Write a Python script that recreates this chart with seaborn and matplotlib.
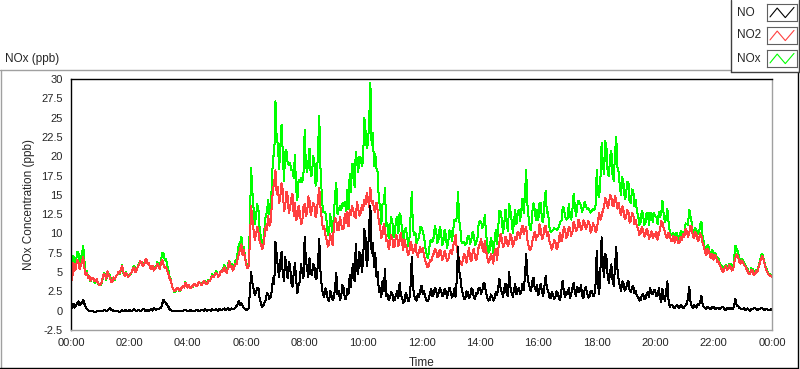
import numpy as np
import pandas as pd
import matplotlib
matplotlib.use("Agg")
import matplotlib.pyplot as plt
from matplotlib.lines import Line2D
from matplotlib.ticker import MultipleLocator, FuncFormatter
import seaborn as sns

# readings every 2.5 minutes, 00:00 .. 24:00 (one row per hour)
no2_ppb = [
    4.3, 4.0, 6.2, 5.2, 5.5, 6.6, 6.4, 5.4, 5.8, 6.3, 7.0, 5.6, 4.6, 4.9, 4.2, 4.5, 3.9, 4.2, 4.3, 3.9, 3.8, 4.1, 3.6, 3.4,
    3.3, 3.6, 4.2, 4.8, 4.6, 4.1, 5.1, 4.6, 4.3, 3.7, 3.8, 4.3, 4.1, 4.5, 4.6, 5.0, 4.9, 5.3, 5.8, 5.0, 4.5, 4.9, 4.7, 4.4,
    4.5, 4.8, 5.0, 5.5, 5.6, 5.0, 5.3, 5.8, 6.0, 6.4, 6.3, 5.8, 5.9, 6.5, 6.7, 6.0, 6.2, 5.6, 5.4, 5.8, 5.2, 5.5, 5.6, 6.1,
    5.8, 5.4, 6.2, 6.6, 6.0, 5.5, 5.7, 5.2, 4.8, 4.2, 3.9, 3.2, 2.8, 2.5, 2.6, 2.9, 2.9, 2.6, 2.7, 3.0, 3.2, 3.0, 3.6, 3.3,
    3.0, 3.3, 2.9, 3.1, 3.2, 3.5, 3.4, 3.2, 3.3, 3.7, 3.6, 3.3, 3.5, 3.8, 3.7, 3.5, 3.4, 3.9, 3.8, 4.2, 4.5, 4.3, 4.6, 4.9,
    4.8, 4.4, 4.5, 5.1, 5.0, 5.3, 5.6, 5.1, 4.9, 5.7, 6.4, 5.6, 5.8, 5.2, 5.5, 6.1, 6.0, 6.8, 7.4, 8.0, 8.6, 7.2, 7.9, 6.8,
    6.0, 5.5, 5.8, 9.0, 13.5, 11.8, 10.5, 9.2, 9.8, 10.9, 10.2, 9.0, 8.6, 8.0, 8.3, 9.6, 11.0, 10.4, 12.3, 11.0, 11.5, 13.6, 15.8, 16.6,
    18.2, 15.1, 16.0, 13.9, 14.8, 16.5, 15.6, 12.9, 13.5, 15.4, 14.9, 12.6, 13.2, 14.6, 15.1, 12.3, 14.0, 11.7, 12.0, 13.6, 12.8, 11.2, 11.6, 13.4,
    13.8, 12.2, 12.6, 14.8, 14.2, 12.4, 13.1, 14.0, 13.6, 12.1, 12.8, 14.6, 15.9, 13.4, 12.0, 10.6, 11.0, 9.8, 9.2, 8.3, 8.6, 9.9, 9.4, 8.5,
    10.8, 12.0, 11.6, 10.4, 10.5, 12.2, 11.2, 10.6, 10.7, 12.5, 11.4, 12.8, 10.9, 13.1, 12.4, 13.6, 12.9, 12.2, 12.0, 14.1, 13.2, 12.3, 12.6, 13.7,
    13.0, 14.4, 13.8, 15.2, 14.6, 13.4, 15.9, 14.0, 14.2, 13.1, 12.8, 14.0, 13.0, 11.5, 10.8, 9.4, 9.9, 11.2, 10.5, 9.0, 9.2, 8.0, 8.6, 9.8,
    9.4, 8.2, 8.3, 9.8, 9.6, 8.4, 9.0, 10.1, 8.7, 7.9, 9.2, 8.4, 8.0, 7.2, 7.6, 8.9, 8.4, 7.5, 7.8, 8.6, 7.4, 7.0, 7.7, 8.2,
    7.6, 8.1, 7.2, 6.5, 6.1, 5.6, 5.8, 6.6, 6.4, 7.0, 7.4, 8.0, 7.8, 6.9, 7.1, 7.9, 7.6, 6.6, 6.9, 7.7, 7.3, 6.4, 6.6, 7.4,
    7.9, 7.3, 8.4, 8.9, 9.8, 8.0, 7.2, 6.6, 6.3, 5.9, 6.6, 7.4, 6.9, 6.2, 7.3, 8.1, 6.8, 6.4, 7.5, 8.0, 7.0, 6.5, 7.2, 8.3,
    8.6, 9.3, 8.1, 7.6, 9.0, 7.8, 7.0, 6.2, 6.5, 7.3, 6.9, 6.1, 7.4, 8.0, 6.6, 7.9, 8.8, 9.9, 9.4, 8.2, 8.5, 9.6, 9.1, 8.4,
    8.8, 9.9, 9.4, 8.3, 8.7, 9.6, 9.1, 10.2, 10.0, 9.4, 10.6, 11.0, 9.9, 10.5, 10.8, 9.2, 8.4, 7.8, 8.0, 8.9, 9.6, 10.2, 9.2, 9.8,
    9.7, 11.2, 10.4, 9.3, 9.6, 10.8, 11.0, 9.7, 10.2, 9.1, 8.6, 7.9, 8.3, 9.2, 8.9, 8.0, 8.2, 9.4, 10.1, 9.0, 9.5, 10.9, 10.4, 9.4,
    9.8, 10.9, 10.6, 9.7, 10.2, 11.5, 11.1, 10.3, 10.6, 11.8, 11.3, 10.4, 10.8, 11.7, 11.4, 10.6, 10.9, 11.6, 11.2, 10.1, 10.5, 11.3, 11.0, 10.2,
    10.4, 11.6, 12.6, 11.8, 12.2, 13.0, 13.4, 14.6, 14.2, 13.3, 13.8, 15.0, 14.7, 13.5, 13.6, 14.9, 14.3, 13.2, 14.0, 12.9, 12.4, 13.5, 13.0, 11.9,
    12.0, 13.1, 12.8, 11.4, 11.6, 12.7, 12.4, 11.2, 11.8, 10.9, 10.6, 9.8, 10.0, 10.9, 10.4, 9.6, 9.8, 10.6, 10.2, 9.3, 9.7, 10.3, 9.4, 9.9,
    9.6, 10.2, 9.2, 9.9, 10.5, 11.6, 11.4, 10.6, 10.3, 9.5, 9.4, 10.1, 9.8, 9.0, 9.1, 9.7, 8.8, 9.5, 9.3, 8.7, 8.9, 9.6, 9.2, 9.9,
    9.6, 10.6, 10.3, 9.5, 10.0, 11.0, 10.8, 9.7, 9.4, 10.2, 9.9, 9.0, 9.2, 10.0, 9.6, 8.8, 8.3, 7.6, 7.2, 8.0, 7.8, 7.1, 6.8, 7.4,
    6.6, 7.2, 7.0, 6.3, 6.4, 5.9, 5.6, 5.2, 5.0, 5.5, 5.8, 5.3, 5.4, 5.9, 5.7, 5.2, 5.3, 6.2, 6.9, 7.3, 7.0, 6.4, 6.1, 6.5,
    6.3, 5.9, 5.8, 5.4, 5.1, 4.7, 4.8, 5.3, 5.2, 4.6, 4.7, 5.1, 5.0, 5.6, 6.2, 6.8, 7.1, 6.6, 6.0, 5.4, 5.0, 4.7, 4.6, 4.5,
    4.4,
]

no_ppb = [
    0.2, 0.5, 0.9, 0.4, 0.6, 1.0, 1.2, 0.7, 0.8, 1.1, 1.4, 0.9, 0.5, 0.2, 0.1, -0.1, -0.1, 0.0, 0.0, -0.2, -0.2, -0.1, -0.1, 0.0,
    0.0, -0.1, -0.1, 0.1, 0.1, -0.1, 0.0, 0.2, 0.3, 0.1, 0.1, -0.1, -0.1, 0.0, 0.0, -0.1, -0.2, 0.0, 0.1, -0.1, 0.0, 0.1, -0.1, 0.0,
    0.1, -0.1, 0.0, 0.1, 0.2, 0.0, -0.1, 0.1, 0.1, -0.1, 0.0, 0.2, 0.2, 0.0, 0.0, 0.1, -0.1, 0.1, 0.2, 0.0, 0.3, 0.2, 0.1, 0.2,
    0.2, 0.3, 0.4, 0.9, 1.4, 1.1, 1.0, 0.7, 0.5, 0.2, 0.1, 0.0, 0.0, -0.1, -0.1, 0.0, 0.0, -0.1, -0.1, 0.0, 0.0, 0.1, 0.1, 0.0,
    0.0, -0.1, 0.1, 0.0, -0.1, 0.0, 0.0, 0.1, 0.1, -0.1, 0.0, 0.1, 0.1, 0.0, 0.2, 0.1, 0.0, 0.1, 0.1, 0.0, 0.2, 0.1, 0.1, 0.2,
    0.1, 0.0, 0.2, 0.1, 0.1, 0.2, 0.3, 0.1, 0.2, 0.3, 0.1, 0.2, 0.3, 0.2, 0.2, 0.4, 0.6, 0.9, 1.3, 0.7, 1.0, 0.6, 0.4, 0.2,
    0.1, 0.2, 0.3, 2.4, 5.0, 3.6, 2.8, 2.0, 2.4, 2.9, 3.0, 1.6, 1.0, 0.5, 0.6, 1.1, 1.4, 2.3, 2.1, 1.5, 1.8, 2.6, 4.2, 3.4,
    8.9, 7.2, 5.6, 4.4, 6.4, 7.6, 4.8, 3.9, 7.0, 5.4, 4.2, 6.3, 5.9, 3.6, 3.1, 4.9, 6.2, 4.0, 2.3, 3.3, 3.8, 6.0, 5.0, 4.2,
    9.6, 6.6, 5.4, 4.3, 6.8, 5.0, 4.6, 6.0, 5.7, 4.1, 4.2, 6.4, 9.3, 5.1, 3.2, 2.2, 1.8, 2.9, 2.4, 1.5, 1.2, 2.6, 2.0, 1.4,
    1.6, 3.0, 4.9, 2.1, 2.6, 1.4, 1.8, 3.3, 2.9, 1.6, 1.5, 2.8, 2.2, 4.6, 3.0, 5.4, 6.1, 3.8, 8.6, 5.2, 4.8, 7.6, 7.2, 5.0,
    6.5, 10.6, 9.5, 5.8, 7.0, 11.2, 13.6, 7.4, 8.8, 5.6, 7.5, 4.4, 5.0, 2.4, 3.0, 1.8, 3.9, 2.6, 5.4, 1.9, 2.1, 1.4, 1.6, 2.4,
    2.2, 1.3, 1.4, 2.0, 2.5, 1.6, 3.6, 2.1, 1.7, 1.0, 1.2, 2.3, 1.9, 1.2, 1.4, 3.2, 7.0, 3.0, 2.0, 1.5, 1.3, 2.2, 1.8, 2.7,
    3.2, 2.2, 2.5, 1.8, 1.4, 1.2, 1.6, 2.3, 2.8, 1.9, 2.1, 3.0, 2.6, 1.8, 2.2, 2.9, 2.7, 1.9, 2.0, 2.8, 2.5, 1.7, 2.3, 3.0,
    2.4, 1.7, 2.0, 2.9, 1.8, 4.0, 8.2, 5.1, 4.2, 2.8, 2.1, 1.5, 1.6, 2.5, 2.4, 1.6, 1.8, 2.9, 2.7, 1.7, 1.5, 2.3, 2.2, 3.0,
    3.0, 2.2, 2.6, 3.6, 3.4, 2.3, 1.7, 1.3, 1.4, 2.1, 1.9, 1.3, 1.6, 2.4, 2.0, 2.9, 4.1, 2.9, 2.4, 1.8, 2.8, 3.5, 2.2, 1.9,
    5.0, 3.1, 2.3, 1.8, 2.8, 3.4, 2.1, 2.6, 3.0, 2.2, 2.4, 3.5, 2.7, 4.4, 7.4, 4.6, 3.6, 2.9, 2.5, 3.8, 4.3, 2.9, 2.6, 3.3,
    2.0, 2.8, 3.5, 2.4, 1.9, 3.2, 4.5, 2.9, 2.6, 1.8, 1.6, 2.4, 2.1, 1.5, 1.7, 2.5, 2.3, 1.6, 1.4, 2.6, 3.9, 2.4, 1.8, 2.4,
    2.2, 2.9, 1.6, 2.1, 2.9, 3.6, 2.4, 1.9, 3.1, 2.4, 2.6, 3.3, 2.0, 1.6, 2.7, 3.1, 2.3, 1.7, 1.8, 2.6, 2.5, 1.9, 2.0, 3.4,
    7.8, 3.4, 2.1, 5.2, 9.5, 6.1, 4.3, 7.4, 6.8, 4.4, 3.6, 5.1, 6.0, 3.9, 3.2, 5.6, 8.2, 5.4, 4.0, 3.1, 2.6, 3.8, 3.5, 2.6,
    2.8, 3.6, 3.9, 2.7, 2.4, 3.0, 3.2, 2.3, 2.6, 1.9, 1.8, 1.3, 1.4, 2.0, 2.2, 1.5, 1.6, 2.1, 2.4, 1.8, 2.9, 2.3, 2.1, 2.7,
    2.6, 1.9, 2.0, 2.9, 1.6, 1.1, 2.8, 1.8, 1.2, 2.4, 3.8, 1.4, 0.5, 0.8, 0.7, 0.4, 0.3, 0.6, 0.8, 0.4, 0.4, 0.7, 0.6, 0.3,
    0.5, 0.7, 0.9, 1.6, 3.1, 1.2, 0.6, 0.3, 0.8, 0.5, 0.4, 0.9, 0.7, 1.2, 1.9, 0.8, 0.5, 0.3, 0.2, 0.5, 0.4, 0.2, 0.3, 0.5,
    0.5, 0.3, 0.2, 0.4, 0.4, 0.2, 0.3, 0.5, 0.5, 0.2, 0.1, 0.3, 0.3, 0.2, 0.4, 0.3, 0.2, 0.8, 1.5, 0.7, 0.6, 0.4, 0.3, 0.2,
    0.2, 0.3, 0.1, 0.2, 0.3, 0.1, 0.0, 0.2, 0.2, 0.3, 0.3, 0.2, 0.1, 0.2, 0.2, 0.3, 0.3, 0.2, 0.1, 0.2, 0.2, 0.1, 0.1, 0.2,
    0.1,
]

series_names = ["NO", "NO2", "NOx"]
series_colors = {"NO": "#000000", "NO2": "#ff4040", "NOx": "#00ff00"}

minutes = np.arange(len(no2_ppb)) * 2.5
df = pd.DataFrame({"hour": minutes / 60.0, "NO": no_ppb, "NO2": no2_ppb})
df["NOx"] = df["NO"] + df["NO2"]

sns.set_style("white")
plt.rcParams["font.family"] = ["Liberation Sans", "DejaVu Sans"]

W, H = 800, 369
fig = plt.figure(figsize=(W / 100, H / 100), dpi=100)
fig.patch.set_facecolor("white")

ax = fig.add_axes([71 / W, 1 - 330 / H, 701 / W, 251 / H])

# NOx underneath, NO2 over it, NO on top; hard 1-px lines like the original
for name in ["NOx", "NO2", "NO"]:
    sns.lineplot(data=df, x="hour", y=name, color=series_colors[name],
                 lw=0.72, estimator=None, antialiased=False, ax=ax, legend=False)

ax.set_xlim(0, 24)
ax.set_ylim(-2.5, 30)
ax.xaxis.set_major_locator(MultipleLocator(2))
ax.xaxis.set_minor_locator(MultipleLocator(0.25))
ax.xaxis.set_major_formatter(FuncFormatter(lambda v, p: f"{int(round(v)) % 24:02d}:00"))
ax.yaxis.set_major_locator(MultipleLocator(2.5))
ax.yaxis.set_major_formatter(FuncFormatter(lambda v, p: f"{v:g}"))
ax.tick_params(axis="both", which="major", direction="out", length=4, width=0.8,
               labelsize=8, pad=2, color="black")
ax.tick_params(axis="x", which="minor", direction="out", length=2.5, width=0.7, color="black")

for s in ["top", "left"]:
    ax.spines[s].set_color("black")
    ax.spines[s].set_linewidth(1)
for s in ["bottom", "right"]:
    ax.spines[s].set_color("#a0a0a0")
    ax.spines[s].set_linewidth(1)

ax.set_xlabel("Time", fontsize=8.5)
ax.set_ylabel("NOx Concentration (ppb)", fontsize=8.5)
ax.xaxis.set_label_coords(0.5, -(357 - 330) / 251)
ax.yaxis.set_label_coords((35 - 71) / 701, 0.5)

fig.text(5 / W, 1 - 59 / H, "NOx (ppb)", fontsize=8.5, ha="left", va="center")

# outer panel frame
fig.add_artist(Line2D([0, 730 / W], [1 - 69.5 / H] * 2, color="#a0a0a0", lw=1))
fig.add_artist(Line2D([0.5 / W] * 2, [1 - 69.5 / H, 1 - 367.5 / H], color="#a0a0a0", lw=1))
fig.add_artist(Line2D([0, 798 / W], [1 - 367.5 / H] * 2, color="black", lw=1))
fig.add_artist(Line2D([797.5 / W] * 2, [1 - 72 / H, 1 - 367.5 / H], color="black", lw=1))

# legend panel
fig.add_artist(Line2D([730.5 / W] * 2, [1, 1 - 72 / H], color="#404040", lw=1))
fig.add_artist(Line2D([730.5 / W, 799 / W], [1 - 71.5 / H] * 2, color="#404040", lw=1))
fig.add_artist(Line2D([798.5 / W] * 2, [1, 1 - 72 / H], color="#404040", lw=1))
icon_tops = [4, 27, 50]
for name, top in zip(series_names, icon_tops):
    fig.text(737 / W, 1 - (top + 8.5) / H, name, fontsize=8.5, ha="left", va="center")
    iax = fig.add_axes([767 / W, 1 - (top + 17) / H, 30 / W, 17 / H])
    iax.plot([0.1, 0.34, 0.61, 0.9], [0.24, 0.76, 0.2, 0.8], color=series_colors[name], lw=0.8)
    iax.set_xlim(0, 1)
    iax.set_ylim(0, 1)
    iax.set_xticks([])
    iax.set_yticks([])
    for s in iax.spines.values():
        s.set_color("#606060")
        s.set_linewidth(0.8)

fig.savefig("out.png", dpi=100)
